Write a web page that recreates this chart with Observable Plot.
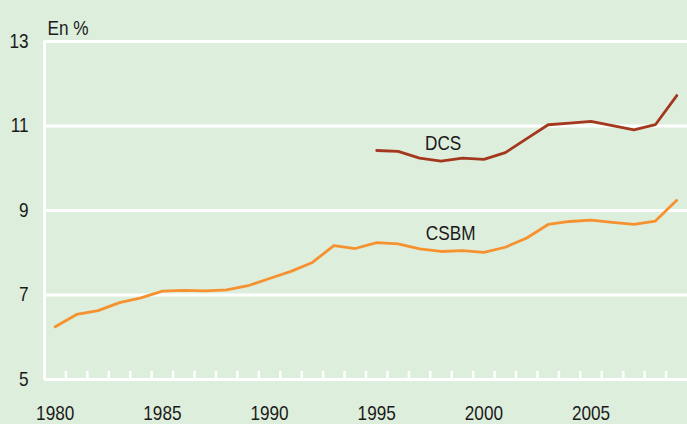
<!DOCTYPE html>
<html>
<head>
<meta charset="utf-8">
<script src="https://cdn.jsdelivr.net/npm/d3@7"></script>
<script src="https://cdn.jsdelivr.net/npm/@observablehq/plot@0.6"></script>
<style>
  html, body { margin: 0; padding: 0; background: #deeedc; }
  #chart { width: 687px; height: 424px; }
</style>
</head>
<body>
<div id="chart"></div>
<script>
const years = d3.range(1980, 2010);
const csbm = [6.25, 6.54, 6.63, 6.82, 6.93, 7.09, 7.11, 7.10, 7.12, 7.22,
              7.39, 7.56, 7.77, 8.17, 8.10, 8.24, 8.21, 8.09, 8.03, 8.05,
              8.01, 8.13, 8.35, 8.67, 8.74, 8.77, 8.72, 8.67, 8.75, 9.24];
const dcsYears = d3.range(1995, 2010);
const dcs = [10.42, 10.40, 10.24, 10.17, 10.24, 10.21, 10.37, 10.70, 11.03, 11.07,
             11.11, 11.01, 10.91, 11.03, 11.72];
const yTicks = [5, 7, 9, 11, 13];
const xLabels = [1980, 1985, 1990, 1995, 2000, 2005];
const seriesLabels = [
  {name: "DCS", year: 1998.1, value: 10.59},
  {name: "CSBM", year: 1998.45, value: 8.46}
];
const yAxisTitle = "En %";

const csbmData = years.map((y, i) => ({year: y, value: csbm[i]}));
const dcsData = dcsYears.map((y, i) => ({year: y, value: dcs[i]}));
const boundaries = d3.range(years[0] - 0.5, years[years.length - 1] + 0.5, 1);
const x0 = years[0] - 0.5, x1 = years[years.length - 1] + 0.5;

const font = "'Liberation Sans', Arial, sans-serif";

const chart = Plot.plot({
  width: 687,
  height: 424,
  marginTop: 41,
  marginBottom: 45,
  marginLeft: 44,
  marginRight: 0,
  style: {background: "#deeedc", fontFamily: font, fontSize: "20px", color: "#1a1a1a"},
  x: {domain: [x0, x1], axis: null},
  y: {domain: [5, 13], axis: null},
  marks: [
    Plot.ruleY(yTicks, {stroke: "white", strokeWidth: 3}),
    Plot.ruleX([x0], {stroke: "white", strokeWidth: 3}),
    Plot.axisX({ticks: boundaries.slice(1), tickSize: 8, dy: -8, stroke: "white", strokeWidth: 2.5, fill: "none", label: null, tickFormat: () => ""}),
    Plot.axisX({ticks: xLabels, tickSize: 0, tickPadding: 26, stroke: "none", fill: "#1a1a1a", label: null, tickFormat: d => String(d), fontSize: 20}),
    Plot.axisY({ticks: yTicks, tickSize: 0, tickPadding: 16, stroke: "none", fill: "#1a1a1a", label: null, tickFormat: d => String(d), fontSize: 20}),
    Plot.text([yAxisTitle], {frameAnchor: "top-left", dx: 3, dy: -21, textAnchor: "start", fill: "#1a1a1a", fontSize: 20}),
    Plot.line(csbmData, {x: "year", y: "value", stroke: "#f5922f", strokeWidth: 2.8}),
    Plot.line(dcsData, {x: "year", y: "value", stroke: "#a3381f", strokeWidth: 2.8}),
    Plot.text(seriesLabels, {x: "year", y: "value", text: "name", fill: "#1a1a1a", fontSize: 20})
  ]
});
// narrow the glyphs horizontally to mimic the condensed face of the original
chart.querySelectorAll("text").forEach(t => {
  let tr = t.getAttribute("transform") || "";
  const x = t.getAttribute("x");
  if (x != null && !isNaN(+x)) {
    tr += ` translate(${+x},0)`;
    t.removeAttribute("x");
  }
  t.setAttribute("transform", (tr + " scale(0.86,1)").trim());
});
document.getElementById("chart").appendChild(chart);
</script>
</body>
</html>
